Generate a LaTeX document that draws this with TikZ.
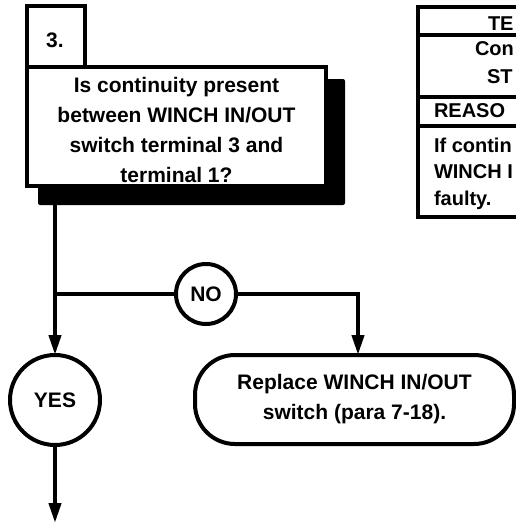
\documentclass[tikz,border=0pt]{standalone}
\usepackage{fontspec}
\setmainfont{Liberation Sans}
\usetikzlibrary{arrows.meta}
\begin{document}
\begin{tikzpicture}[x=1pt,y=-1pt,
  every node/.style={font=\fontsize{21}{30}\selectfont\bfseries, inner sep=0pt, outer sep=0pt},
  frame/.style={draw=black, line width=4pt, fill=white},
  flowline/.style={line width=4pt},
  flowarrow/.style={line width=4pt, -{Triangle[length=20pt,width=12pt]}},
  answer/.style={frame, circle},
  rule/.style={line width=4pt},
  cell/.style={anchor=base west, font=\fontsize{20}{28}\selectfont\bfseries},
]
\useasboundingbox (0,0) rectangle (516,523);
\begin{scope}
\clip (0,0) rectangle (516,523);

% drop shadow behind the question box
\fill[rounded corners=2pt] (38,79) rectangle (345,205);

% step number tab and question box
\node[frame, minimum width=58pt, minimum height=61pt] (num) at (56,36.5) {};
\node[frame, minimum width=299pt, minimum height=119pt] (q) at (176.5,126.5) {};
\node[anchor=base] (numtext) at (55,47) {3.};
\node[align=center, anchor=south] (qtext) at (176.5,183)
  {Is continuity present\\between WINCH IN/OUT\\switch terminal 3 and\\terminal 1?};

% answers and action
\node[answer, minimum size=60pt] (no) at (206,294) {NO};
\node[answer, minimum size=90pt] (yes) at (55,400) {YES};
\node[frame, rounded corners=40pt, minimum width=319pt, minimum height=89pt, align=center]
  (act) at (354.5,399.5) {Replace WINCH IN/OUT\\switch (para 7-18).};

% connectors
\coordinate (qout) at (55,205);
\coordinate (split) at (55,294);
\coordinate (drop) at (358,294);
\coordinate (exit) at (55,523);
\draw[flowarrow] (qout) -- (yes.north);
\draw[flowline] (split) -- (no.west);
\draw[flowarrow] (no.east) -- (drop) -- (drop |- act.north);
\draw[flowarrow] (yes.south) -- (exit);

% test / reason table at the right
\draw[rule] (530,7) -- (418,7) -- (418,217) -- (530,217);
\draw[rule] (418,35) -- (530,35);
\draw[rule] (418,97) -- (530,97);
\draw[rule] (418,126) -- (530,126);
\node[cell] (t1) at (488,30) {TE};
\node[cell] (t2) at (475,55) {Con};
\node[cell] (t3) at (487,83) {ST};
\node[cell] (t4) at (434,117) {REASO};
\node[cell] (t5) at (434,152) {If contin};
\node[cell] (t6) at (434,178) {WINCH I};
\node[cell] (t7) at (434,205) {faulty.};
\end{scope}
\end{tikzpicture}
\end{document}
